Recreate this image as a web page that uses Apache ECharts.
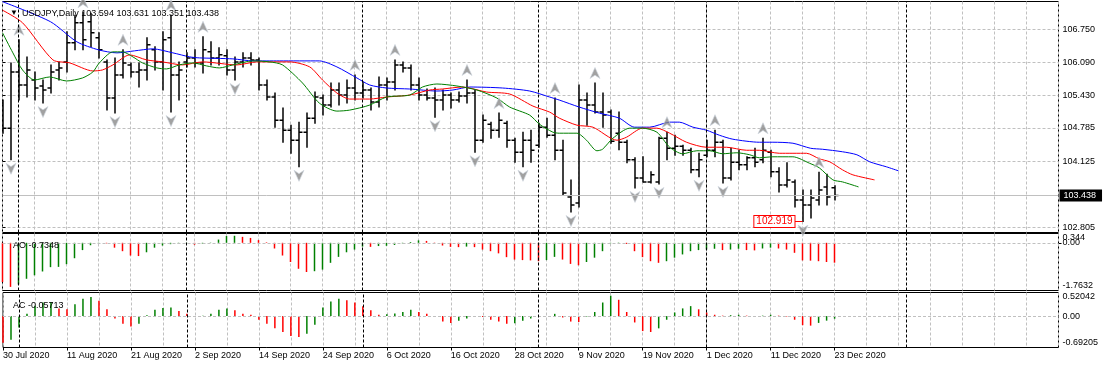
<!DOCTYPE html>
<html><head><meta charset="utf-8">
<script src="https://cdn.jsdelivr.net/npm/echarts@6/dist/echarts.min.js"></script>
<style>html,body{margin:0;padding:0;background:#fff}#c{width:1107px;height:368px}</style>
</head><body><div id="c"></div>
<script>
// ---------- data ----------
const symbolName = 'USDJPY,Daily';
const dateLabels = ['30 Jul 2020','11 Aug 2020','21 Aug 2020','2 Sep 2020','14 Sep 2020','24 Sep 2020','6 Oct 2020','16 Oct 2020','28 Oct 2020','9 Nov 2020','19 Nov 2020','1 Dec 2020','11 Dec 2020','23 Dec 2020'];
const dateLabelIdx = [0,8,16,24,32,40,48,56,64,72,80,88,96,104];
const monthStartIdx = [2,23,45,67,88,113];

const opens = [105.28,104.78,105.90,105.64,105.74,105.62,105.58,105.94,106.10,106.48,
106.88,106.90,106.58,106.10,105.38,105.84,106.04,105.90,105.94,106.34,
106.10,106.58,105.84,106.10,106.18,106.08,106.30,106.18,106.22,105.94,
106.10,106.18,106.14,105.64,105.40,104.94,104.74,104.54,104.70,104.98,
105.38,105.24,105.54,105.44,105.58,105.48,105.54,105.30,105.64,105.70,
106.04,105.98,105.64,105.44,105.38,105.34,105.44,105.34,105.42,105.48,
104.54,104.86,104.74,104.88,104.54,104.30,104.54,104.44,104.80,104.64,
104.34,103.41,103.29,105.34,105.24,105.10,105.10,104.68,104.50,104.15,
103.79,103.71,103.71,104.58,104.38,104.42,104.34,103.95,104.24,104.34,
104.50,103.79,104.10,104.05,104.19,104.15,104.30,103.91,103.65,103.71,
103.35,103.25,103.35,103.61,103.594];
const highs = [105.34,106.08,106.54,106.20,105.90,105.74,106.04,106.10,106.70,107.03,
107.09,107.07,106.68,106.14,106.18,106.34,106.08,106.08,106.58,106.40,
106.70,107.03,106.10,106.28,106.34,106.60,106.50,106.38,106.34,106.20,
106.28,106.28,106.18,105.74,105.48,105.18,104.84,104.90,105.08,105.50,
105.44,105.68,105.68,105.74,105.84,105.70,105.58,105.80,105.78,106.14,
106.10,106.04,105.78,105.56,105.58,105.54,105.48,105.50,105.74,105.54,
105.04,104.90,105.08,104.92,104.58,104.70,104.74,104.88,104.98,105.38,
104.54,103.75,105.64,105.48,105.68,105.48,105.14,105.10,104.54,104.19,
104.21,103.91,104.60,104.70,104.64,104.44,104.38,104.28,104.54,104.74,
104.54,104.38,104.34,104.21,104.38,104.58,104.34,103.99,104.09,103.75,
103.55,103.55,103.90,103.86,103.631];
const lows = [104.68,104.15,105.34,105.40,105.34,105.28,105.48,105.74,105.90,106.34,
106.34,106.40,106.18,105.14,105.08,105.78,105.80,105.60,105.74,105.94,
105.54,105.10,105.34,106.00,106.00,105.88,106.04,106.04,105.84,105.74,
106.00,106.04,105.54,105.34,104.80,104.50,104.28,104.01,104.40,104.88,
105.04,105.20,105.24,105.28,105.34,105.38,105.14,105.20,105.34,105.54,
105.90,105.54,105.34,105.34,105.00,105.14,105.18,105.30,105.28,104.30,
104.50,104.58,104.60,104.40,104.10,104.01,104.10,104.40,104.60,104.15,
103.45,103.11,103.21,104.84,105.08,104.80,104.48,104.35,104.09,103.59,
103.71,103.69,103.67,104.15,104.24,104.24,103.89,103.81,104.21,104.21,
103.69,103.75,103.95,103.95,104.01,104.09,103.81,103.51,103.61,103.21,
102.919,102.99,103.25,103.25,103.351];
const closes = [104.78,105.90,105.64,105.94,105.58,105.54,105.90,105.98,106.48,106.88,
106.54,106.68,106.34,105.38,105.84,106.08,105.90,105.94,106.44,106.10,
106.54,105.84,105.94,106.18,106.08,106.34,106.18,106.24,105.94,106.10,
106.18,106.14,105.64,105.40,104.94,104.74,104.54,104.70,104.98,105.40,
105.24,105.54,105.44,105.58,105.48,105.54,105.30,105.64,105.70,106.04,
105.98,105.64,105.44,105.38,105.34,105.44,105.34,105.42,105.48,104.54,
104.94,104.74,104.94,104.54,104.30,104.54,104.34,104.80,104.64,104.34,
103.49,103.25,105.34,105.24,105.10,105.04,104.52,104.50,104.15,103.79,
103.71,103.85,104.58,104.38,104.42,104.34,103.95,104.15,104.34,104.50,
103.79,104.10,104.05,104.19,104.10,104.34,103.91,103.65,103.75,103.35,
103.25,103.39,103.55,103.41,103.438];

// Alligator lines: [bar index, price]
const jaw = [[0,107.30],[6,106.90],[9.3,106.50],[12,106.34],[14.3,106.28],[16.5,106.32],[18.8,106.36],[21.3,106.28],[23.4,106.20],[24.6,106.18],[28.8,106.16],[31.3,106.12],[34.6,106.12],[39.6,106.12],[41.8,106.00],[44.3,105.78],[45.9,105.64],[48,105.58],[50.9,105.56],[54.3,105.52],[56.3,105.54],[58.4,105.60],[62.5,105.58],[65.9,105.52],[68.4,105.40],[69.6,105.34],[72.1,105.20],[74.6,105.08],[77.1,104.98],[79,104.80],[80.9,104.80],[83.4,104.90],[84.6,104.90],[86.3,104.80],[88,104.74],[89.6,104.64],[91.3,104.56],[94.6,104.50],[96.3,104.50],[98.8,104.48],[101,104.38],[102.5,104.36],[105,104.31],[106.8,104.25],[108.4,104.11],[110.5,104.01],[112,103.93]];
const teeth = [[0,107.13],[2.5,106.88],[6.3,106.14],[8.4,106.08],[11.3,105.92],[12.5,105.94],[13.8,106.04],[15.9,106.24],[18,106.14],[20,106.10],[22.5,106.04],[25,106.10],[29.3,106.04],[31.8,106.10],[35.9,106.10],[38.4,106.00],[40,105.74],[41.8,105.48],[43.4,105.36],[45.9,105.36],[48,105.40],[50.9,105.44],[53.4,105.54],[55,105.56],[57.5,105.60],[60.5,105.50],[63.4,105.46],[66.3,105.22],[68.4,105.10],[69.6,104.98],[71.8,104.84],[73.8,104.80],[76.8,104.54],[78,104.60],[80,104.78],[81.8,104.78],[83.4,104.68],[85.5,104.50],[88,104.40],[90.5,104.40],[93,104.34],[94.6,104.34],[97.1,104.28],[100.5,104.28],[102.1,104.17],[103.4,104.11],[105,103.95],[106.3,103.85],[109,103.75]];
const lips = [[0,106.68],[1.3,106.28],[2.5,105.94],[4,105.74],[5.9,105.80],[8,105.72],[10,105.78],[11.3,105.90],[12.1,106.08],[13.8,106.30],[15,106.30],[16.3,106.20],[17.5,106.08],[19.3,105.98],[20.5,105.96],[22.1,106.04],[23.8,106.08],[25.5,106.02],[27.1,105.98],[28.8,106.04],[31.3,106.12],[33.4,106.10],[35,106.04],[37.5,105.68],[39.6,105.28],[41.8,105.12],[43.4,105.14],[45.9,105.24],[48,105.40],[50.9,105.44],[52.5,105.60],[54.3,105.66],[56.8,105.62],[59.3,105.54],[61.8,105.38],[63.4,105.20],[65.9,105.04],[67.1,104.86],[68.8,104.70],[69.6,104.68],[71.8,104.68],[73,104.54],[74.3,104.33],[75,104.36],[76.3,104.58],[78.4,104.78],[80,104.78],[81.8,104.70],[83.4,104.40],[85,104.27],[86.8,104.33],[88.4,104.33],[90,104.27],[91.8,104.29],[93.4,104.25],[94.6,104.19],[96.3,104.21],[98.8,104.21],[100.9,104.08],[102.1,103.99],[103.8,103.75],[105,103.71],[107,103.61]];

const fractalUpIdx = [2,10,15,21,25,44,49,58,62,69,74,83,89,95,102];
const fractalDownIdx = [1,5,14,21,29,37,54,59,65,71,79,82,87,90,100];

const ao = [-1.45,-1.63,-1.54,-1.33,-1.20,-1.06,-0.90,-0.89,-0.79,-0.57,
-0.27,-0.09,-0.01,-0.02,-0.18,-0.31,-0.47,-0.49,-0.35,-0.18,
-0.10,-0.05,-0.03,-0.02,-0.07,-0.03,0.01,0.12,0.25,0.26,
0.22,0.18,0.10,0.02,-0.21,-0.47,-0.71,-0.96,-1.08,-1.05,
-0.99,-0.74,-0.52,-0.35,-0.25,-0.14,-0.15,-0.12,-0.11,-0.08,
-0.02,0.03,0.09,0.07,0.01,-0.10,-0.15,-0.16,-0.14,-0.16,
-0.25,-0.31,-0.39,-0.53,-0.62,-0.64,-0.65,-0.68,-0.64,-0.52,
-0.62,-0.78,-0.83,-0.71,-0.55,-0.31,-0.02,0.01,-0.04,-0.31,
-0.53,-0.68,-0.74,-0.68,-0.55,-0.43,-0.31,-0.27,-0.25,-0.22,
-0.27,-0.25,-0.22,-0.27,-0.28,-0.21,-0.18,-0.21,-0.25,-0.37,
-0.65,-0.66,-0.68,-0.71,-0.7348];
const ac = [-0.59,-0.52,-0.25,0.05,0.23,0.30,0.31,0.17,0.15,0.26,
0.38,0.42,0.34,0.15,-0.05,-0.17,-0.23,-0.17,0.02,0.14,
0.18,0.19,0.11,0.05,-0.01,0.01,0.05,0.14,0.17,0.13,
0.05,0.03,-0.08,-0.17,-0.27,-0.35,-0.44,-0.46,-0.39,-0.19,
0.19,0.32,0.38,0.35,0.30,0.22,0.13,0.03,0.04,0.06,
0.09,0.14,0.09,0.05,-0.02,-0.12,-0.15,-0.10,-0.05,-0.01,
-0.02,-0.08,-0.12,-0.17,-0.16,-0.10,-0.05,-0.02,0.00,0.05,
-0.03,-0.12,-0.13,-0.01,0.09,0.30,0.45,0.36,0.09,-0.14,
-0.33,-0.35,-0.27,-0.08,0.08,0.17,0.22,0.15,0.08,0.03,
0.01,0.02,0.03,0.01,0.00,0.01,0.03,0.01,-0.01,-0.08,
-0.20,-0.21,-0.15,-0.10,-0.05713];

const priceTicks = [102.805,104.125,104.785,105.430,106.090,106.750];
const priceMin = 102.702, priceMax = 107.303;
const aoRangeTicks = [-1.7632,0.344];
const aoZeroTick = [0];
const acTicks = [-0.69205,0,0.52042];
const bidPrice = 103.438;
const lowMarkIdx = 100, lowMarkValue = 102.919;

// ---------- chart ----------
const FONT = 'Liberation Sans, Arial, sans-serif';
const GRID_GREY = '#c0c0c0';
const X_MAX = 132;
const last = opens.length - 1;

const ohlcData = opens.map((o, i) => [i, o, highs[i], lows[i], closes[i]]);

function renderOHLC(params, api) {
  const i = api.value(0);
  const pO = api.coord([i, api.value(1)]);
  const pH = api.coord([i, api.value(2)]);
  const pL = api.coord([i, api.value(3)]);
  const pC = api.coord([i, api.value(4)]);
  const x = pH[0] + 0.5;
  const st = { stroke: '#000', lineWidth: 1.5 };
  return { type: 'group', children: [
    { type: 'line', shape: { x1: x, y1: pH[1] - 0.5, x2: x, y2: pL[1] + 0.5 }, style: st },
    { type: 'line', shape: { x1: x - 3.5, y1: pO[1], x2: x, y2: pO[1] }, style: st },
    { type: 'line', shape: { x1: x, y1: pC[1], x2: x + 3.5, y2: pC[1] }, style: st }
  ]};
}

function xAxisBase(grid) {
  return { type: 'value', gridIndex: grid, min: 0, max: X_MAX, interval: 4,
    axisLine: { show: false }, axisTick: { show: false }, axisLabel: { show: false },
    splitLine: { show: true, lineStyle: { color: GRID_GREY, type: [3, 2], width: 1 } } };
}
function histColor(arr) {
  return p => (p.dataIndex > 0 && arr[p.dataIndex] > arr[p.dataIndex - 1]) ? '#008000' : '#ff0000';
}
const tickFmt = v => (v === 0 ? '0.00' : String(v));
const sepLine = monthStartIdx.map(i => ({ xAxis: i }));
const sepStyle = { color: '#000', type: [3, 2], width: 1 };
const upPath = 'path://M5,0L10,10L5,7L0,10Z';
const downPath = 'path://M5,10L10,0L5,3L0,0Z';
const titleStyle = { fontSize: 9, color: '#000', fontWeight: 'normal', fontFamily: FONT };
const subAxisLabel = (ticks) => ({ customValues: ticks, formatter: tickFmt, fontSize: 9, color: '#000', margin: 4, fontFamily: FONT,
  showMinLabel: true, showMaxLabel: true, hideOverlap: false, verticalAlignMinLabel: 'bottom', verticalAlignMaxLabel: 'top' });
const subYAxis = (grid, min, max, ticks, extra) => Object.assign({ type: 'value', gridIndex: grid, position: 'right', min: min, max: max,
  axisLine: { show: false },
  axisTick: { show: true, customValues: ticks, length: 3, lineStyle: { color: '#000' } },
  axisLabel: subAxisLabel(ticks), splitLine: { show: false } }, extra || {});

const chart = echarts.init(document.getElementById('c'), null, { renderer: 'canvas' });
chart.setOption({
  animation: false,
  backgroundColor: '#fff',
  textStyle: { fontFamily: FONT },
  title: [
    { text: '▼', left: 5, top: 4, textStyle: Object.assign({}, titleStyle, { fontSize: 8 }) },
    { text: symbolName + ' ' + [opens[last], highs[last], lows[last], closes[last]].map(v => v.toFixed(3)).join(' '),
      left: 17, top: 4, textStyle: titleStyle },
    { text: 'AO ' + ao[last], left: 8, top: 236, textStyle: titleStyle },
    { text: 'AC ' + ac[last], left: 8, top: 296, textStyle: titleStyle }
  ],
  grid: [
    { left: 2.5, top: 1.5, width: 1056, height: 231, show: true, borderColor: '#000', borderWidth: 1, backgroundColor: '#fff' },
    { left: 2.5, top: 233.5, width: 1056, height: 57, show: true, borderColor: '#000', borderWidth: 1, backgroundColor: '#fff' },
    { left: 2.5, top: 292.5, width: 1056, height: 55, show: true, borderColor: '#000', borderWidth: 1, backgroundColor: '#fff' }
  ],
  xAxis: [
    xAxisBase(0), xAxisBase(1), xAxisBase(2),
    { type: 'value', gridIndex: 2, position: 'bottom', min: 0, max: X_MAX,
      axisLine: { show: false }, splitLine: { show: false },
      axisTick: { show: true, customValues: dateLabelIdx, length: 3, lineStyle: { color: '#000' } },
      axisLabel: { show: true, customValues: dateLabelIdx, align: 'left', margin: 4, fontSize: 9, color: '#000', fontFamily: FONT,
        showMinLabel: true, showMaxLabel: true,
        formatter: v => dateLabels[dateLabelIdx.indexOf(Math.round(v))] || '' } }
  ],
  yAxis: [
    { type: 'value', gridIndex: 0, position: 'right', min: priceMin, max: priceMax, scale: true,
      axisLine: { show: false },
      axisTick: { show: true, customValues: priceTicks, length: 3, lineStyle: { color: '#000' } },
      axisLabel: { customValues: priceTicks, formatter: v => v.toFixed(3), fontSize: 9, color: '#000', margin: 4, fontFamily: FONT,
        showMinLabel: true, showMaxLabel: true },
      splitLine: { show: true, lineStyle: { color: GRID_GREY, type: [3, 2], width: 1 } } },
    subYAxis(1, aoRangeTicks[0], aoRangeTicks[1], aoRangeTicks),
    subYAxis(2, acTicks[0], acTicks[2], acTicks),
    subYAxis(1, aoRangeTicks[0], aoRangeTicks[1], aoZeroTick,
      { axisLabel: { customValues: aoZeroTick, formatter: tickFmt, fontSize: 9, color: '#000', margin: 4, fontFamily: FONT,
        showMinLabel: true, showMaxLabel: true } })
  ],
  series: [
    { type: 'custom', name: 'bars', xAxisIndex: 0, yAxisIndex: 0, data: ohlcData, renderItem: renderOHLC,
      encode: { x: 0, y: [1, 2, 3, 4] }, clip: true, z: 2, silent: true },
    { type: 'line', name: 'jaw', xAxisIndex: 0, yAxisIndex: 0, data: jaw, showSymbol: false, smooth: 0.25,
      lineStyle: { color: '#0000ff', width: 1 }, z: 3, silent: true, clip: true,
      markLine: { silent: true, symbol: ['none', 'none'], animation: false,
        data: [{ yAxis: bidPrice, lineStyle: { color: '#c0c0c0', type: 'solid', width: 1 },
          label: { show: true, position: 'end', distance: 1, formatter: bidPrice.toFixed(3), color: '#fff', backgroundColor: '#000',
            padding: [2, 6, 1, 4], fontSize: 9, fontFamily: FONT } }] } },
    { type: 'line', name: 'teeth', xAxisIndex: 0, yAxisIndex: 0, data: teeth, showSymbol: false, smooth: 0.25,
      lineStyle: { color: '#ff0000', width: 1 }, z: 3, silent: true, clip: true,
      markLine: { silent: true, symbol: ['none', 'none'], animation: false,
        data: [[{ coord: [lowMarkIdx - 1, lowMarkValue], lineStyle: { color: '#ff0000', type: 'solid', width: 1 },
          label: { show: true, position: 'start', distance: 0, formatter: lowMarkValue.toFixed(3), color: '#ff0000',
            backgroundColor: '#fff', borderColor: '#ff0000', borderWidth: 1, padding: [1, 2, 0, 2], fontSize: 10, fontFamily: FONT } },
          { coord: [lowMarkIdx, lowMarkValue] }]] } },
    { type: 'line', name: 'lips', xAxisIndex: 0, yAxisIndex: 0, data: lips, showSymbol: false, smooth: 0.25,
      lineStyle: { color: '#008000', width: 1 }, z: 3, silent: true, clip: true,
      markLine: { silent: true, symbol: ['none', 'none'], animation: false, label: { show: false },
        lineStyle: sepStyle, data: sepLine } },
    { type: 'scatter', name: 'fractalUp', xAxisIndex: 0, yAxisIndex: 0, data: fractalUpIdx.map(i => [i, highs[i]]),
      symbol: upPath, symbolSize: [10, 11], symbolOffset: [0.5, -10], z: 4, silent: true, clip: true,
      itemStyle: { color: '#8a8a8a', borderColor: '#cfd6e0', borderWidth: 0.8 } },
    { type: 'scatter', name: 'fractalDown', xAxisIndex: 0, yAxisIndex: 0, data: fractalDownIdx.map(i => [i, lows[i]]),
      symbol: downPath, symbolSize: [10, 11], symbolOffset: [0.5, 9], z: 4, silent: true, clip: true,
      itemStyle: { color: '#8a8a8a', borderColor: '#cfd6e0', borderWidth: 0.8 } },
    { type: 'bar', name: 'AO', xAxisIndex: 1, yAxisIndex: 1, data: ao.map((v, i) => [i, v]), barWidth: 1.5,
      itemStyle: { color: histColor(ao) }, silent: true,
      markLine: { silent: true, symbol: ['none', 'none'], animation: false, label: { show: false },
        data: [{ yAxis: 0, lineStyle: { color: GRID_GREY, type: [3, 2], width: 1 } }].concat(sepLine.map(d => Object.assign({ lineStyle: sepStyle }, d))) } },
    { type: 'bar', name: 'AC', xAxisIndex: 2, yAxisIndex: 2, data: ac.map((v, i) => [i, v]), barWidth: 1.5,
      itemStyle: { color: histColor(ac) }, silent: true,
      markLine: { silent: true, symbol: ['none', 'none'], animation: false, label: { show: false },
        data: [{ yAxis: 0, lineStyle: { color: GRID_GREY, type: [3, 2], width: 1 } }].concat(sepLine.map(d => Object.assign({ lineStyle: sepStyle }, d))) } }
  ]
});
</script>
</body></html>
